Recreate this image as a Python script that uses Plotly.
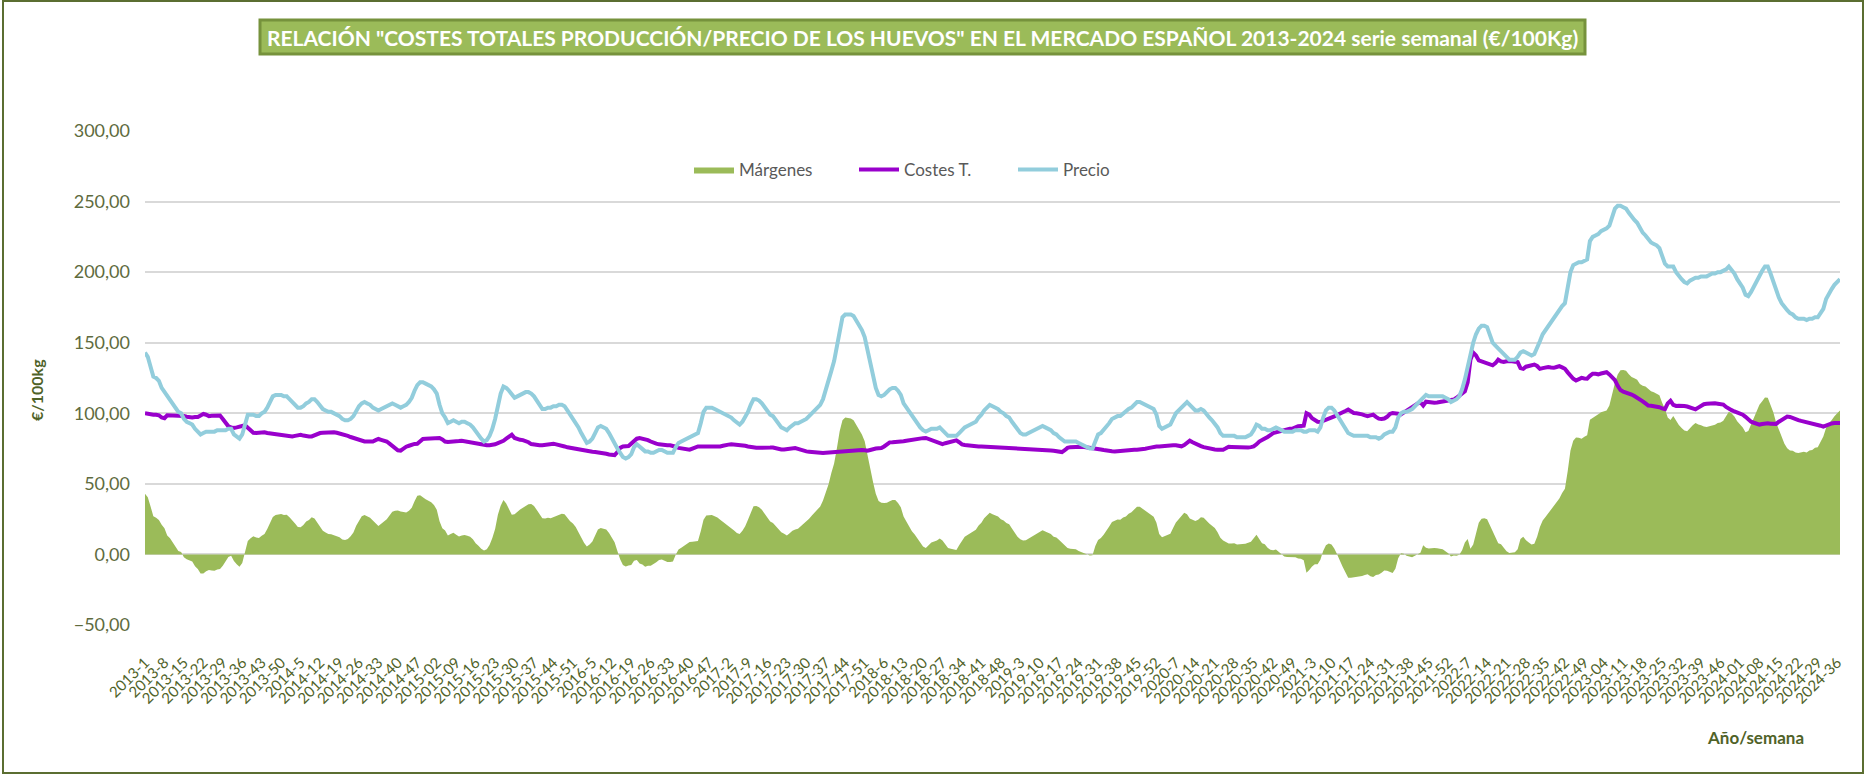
import plotly.graph_objects as go

# ---------------- categories (year / week) ----------------
years = [2013, 2014, 2015, 2016, 2017, 2018, 2019, 2020, 2021, 2022, 2023, 2024]
weeks_in_year = [52, 52, 53, 52, 52, 52, 52, 53, 52, 52, 52, 37]
zero_padded_years = [2015, 2023, 2024]

# ---------------- Precio (€/100kg), weekly ----------------
p2013 = [143, 140, 133, 126, 125, 123, 118, 115, 112, 110, 107, 104, 101, 100, 96, 94, 93, 92, 89, 87,
         85, 86, 87, 87, 87, 87, 88, 88, 88, 88, 89, 89, 85, 83, 82, 85, 93, 99, 99, 99,
         98, 98, 100, 101, 104, 108, 112, 113, 113, 113, 112, 112]
p2014 = [110, 108, 106, 104, 104, 105, 107, 108, 110, 110, 108, 105, 103, 102, 101, 101, 100, 99, 98, 96,
         95, 95, 96, 98, 102, 105, 107, 108, 107, 106, 104, 103, 102, 103, 104, 105, 106, 107, 106, 105,
         104, 105, 106, 108, 111, 116, 120, 122, 122, 121, 120, 119]
p2015 = [117, 114, 106, 100, 97, 93, 94, 95, 94, 93, 94, 94, 93, 92, 90, 87, 85, 82, 80, 81,
         84, 89, 96, 107, 114, 119, 118, 116, 113, 111, 112, 113, 114, 115, 115, 114, 112, 109, 106, 103,
         103, 104, 104, 105, 105, 106, 106, 105, 102, 99, 97, 94, 90]
p2016 = [86, 82, 79, 80, 82, 86, 90, 91, 90, 89, 86, 82, 79, 75, 72, 69, 68, 69, 71, 76,
         78, 76, 75, 73, 73, 72, 72, 73, 74, 74, 73, 72, 72, 72, 76, 79, 80, 81, 82, 83,
         84, 85, 86, 93, 101, 104, 104, 104, 103, 102, 101, 100]
p2017 = [99, 98, 97, 95, 93, 92, 94, 97, 101, 106, 110, 110, 109, 107, 104, 101, 99, 98, 95, 92,
         90, 89, 88, 90, 92, 93, 93, 94, 95, 96, 98, 100, 102, 104, 106, 110, 116, 122, 130, 137,
         148, 160, 168, 170, 170, 170, 169, 166, 163, 159, 154, 145]
p2018 = [135, 126, 118, 113, 112, 113, 115, 117, 118, 118, 116, 113, 107, 104, 101, 98, 96, 93, 90, 88,
         87, 88, 89, 89, 89, 90, 88, 86, 84, 84, 84, 84, 86, 88, 90, 91, 92, 93, 94, 97,
         99, 102, 104, 106, 105, 104, 103, 101, 100, 98, 97, 94]
p2019 = [91, 88, 86, 85, 85, 86, 87, 88, 89, 90, 91, 90, 89, 88, 86, 85, 83, 81, 80, 80,
         80, 80, 80, 79, 78, 77, 76, 75, 75, 81, 85, 86, 88, 90, 93, 96, 97, 98, 98, 100,
         101, 103, 104, 106, 108, 108, 107, 106, 105, 104, 103, 99]
p2020 = [91, 89, 90, 91, 92, 96, 100, 102, 104, 107, 108, 106, 104, 102, 102, 103, 102, 99, 97, 95,
         93, 90, 86, 84, 84, 84, 84, 84, 83, 83, 83, 83, 84, 85, 88, 92, 91, 89, 89, 88,
         88, 89, 90, 89, 88, 87, 87, 87, 87, 88, 88, 88, 87]
p2021 = [87, 88, 88, 88, 87, 90, 97, 102, 104, 104, 102, 99, 95, 92, 89, 86, 85, 84, 84, 84,
         84, 84, 84, 83, 83, 83, 82, 83, 85, 86, 87, 87, 90, 97, 100, 101, 101, 102, 103, 105,
         107, 109, 112, 113, 112, 112, 112, 112, 112, 112, 111, 110]
p2022 = [108, 109, 110, 112, 117, 124, 133, 142, 150, 156, 160, 162, 162, 161, 156, 150, 148, 146, 144, 141,
         139, 138, 138, 138, 140, 143, 144, 143, 142, 141, 142, 146, 151, 156, 159, 162, 164, 167, 170, 173,
         176, 178, 188, 200, 205, 206, 207, 207, 208, 209, 222, 225]
p2023 = [226, 227, 229, 230, 231, 233, 240, 245, 247, 247, 246, 245, 242, 239, 237, 235, 231, 228, 226, 223,
         221, 220, 219, 217, 211, 206, 204, 204, 204, 200, 197, 195, 193, 192, 194, 195, 196, 196, 197, 197,
         197, 198, 199, 199, 200, 200, 201, 202, 204, 202, 199, 195]
p2024 = [192, 189, 184, 183, 186, 190, 194, 198, 201, 204, 204, 199, 193, 186, 182, 178, 175, 173, 171, 170,
         168, 167, 167, 167, 166, 167, 167, 168, 168, 171, 174, 181, 185, 188, 191, 193, 195]

# ---------------- Costes T. (€/100kg), weekly ----------------
c2013 = [100, 99.5, 99, 99, 99, 98.6, 97, 96.5, 98.6, 98.6, 98.6, 98.6, 98.6, 98.3, 98, 97.5, 97, 97, 97.3, 97.4,
         98.5, 99.5, 99, 98, 98.3, 98.5, 98.6, 98.4, 96, 93, 90.8, 90, 89.6, 90, 90.8, 91, 91.5, 89.5, 87.5, 86.2,
         86, 86.3, 86.7, 86.5, 86, 85.7, 85.5, 85, 84.6, 84.3, 84, 83.8]
c2014 = [83.7, 83.6, 84, 84.5, 84.8, 84.2, 83.6, 83.6, 83.6, 84.5, 85.3, 86, 86.2, 86.4, 86.6, 86.7, 86.6, 86.2, 85.8, 85.5,
         84.8, 84, 83.2, 82.5, 81.7, 80.8, 80, 80, 80, 80, 80, 81, 81.8, 81.2, 80.5, 80, 78.5, 76.8, 75, 73.8,
         73.5, 75, 76.3, 77, 78, 78.3, 78.4, 80, 81.8, 81.9, 82, 82]
c2015 = [82, 82.3, 82.5, 81.5, 80, 79.6, 79.6, 79.6, 80, 80.3, 80.6, 80.2, 79.8, 79.4, 79.2, 79, 78.8, 78, 77.3, 77.3,
         77.3, 77.4, 78, 78.8, 79.5, 80.5, 82, 83.5, 84.8, 82.5, 81.5, 81.2, 81, 80.5, 79.5, 78.2, 77.7, 77.5, 77.4, 77.3,
         77.6, 78, 78.3, 78.4, 78, 77.7, 77.2, 76.5, 75.9, 75.5, 75, 74.6, 74.2]
c2016 = [74, 73.7, 73.3, 73, 72.8, 72.6, 72.4, 72.2, 71.8, 71.3, 70.8, 70.4, 70.4, 72.5, 75.5, 76.5, 76.5, 76.8, 78.5, 80.5,
         82, 82.5, 82.2, 81.8, 81, 80, 79, 78.5, 78, 77.6, 77.5, 77.4, 77.3, 77, 76.3, 75.5, 75.2, 75, 74.5, 74.2,
         75, 76, 76.5, 76.5, 76.5, 76.5, 76.3, 76, 75.9, 75.8, 76.5, 77]
c2017 = [77.7, 77.8, 78.1, 78, 77.8, 77.5, 77.3, 77, 76.5, 76, 75.8, 75.6, 75.5, 75.4, 75.5, 75.6, 75.7, 75.8, 75.2, 74.7,
         74.3, 74.3, 74.6, 75, 75.3, 75.4, 74.8, 74, 73.3, 73, 72.8, 72.5, 72.3, 72.2, 72, 71.8, 72, 72.2, 72.3, 72.5,
         72.7, 72.8, 73, 73, 73.4, 73.7, 74, 74.2, 74.2, 74, 73.8, 73.5]
c2018 = [74, 74.7, 75, 75.2, 75.4, 76.5, 78.3, 79.4, 79.5, 79.5, 79.6, 79.6, 80.2, 80.6, 81, 81.5, 81.8, 82, 82.2, 82.4,
         82.5, 81.8, 80.5, 79.8, 79.2, 78.7, 78.2, 78.8, 79.4, 80, 80.5, 80.8, 79.5, 78, 77.5, 77.2, 76.9, 76.7, 76.5, 76.5,
         76.5, 76.4, 76.5, 76.5, 76.5, 76.3, 76.2, 76, 75.9, 75.8, 75.7, 75.6]
c2019 = [75.5, 75.4, 75.3, 75.1, 74.9, 74.7, 74.5, 74.3, 74.2, 74, 73.9, 73.8, 73.7, 73.6, 73.4, 73, 72.7, 72.5, 73.8, 75.5,
         76, 76.2, 76.4, 76.5, 76.3, 76.1, 75.9, 75.8, 75.5, 75.1, 74.8, 74.4, 74, 73.5, 73.3, 73.1, 73, 73.2, 73.5, 73.9,
         74.2, 74.2, 74.2, 74.2, 74.2, 74.2, 74.5, 74.9, 75.3, 75.8, 76.3, 76.5]
c2020 = [76.5, 76.8, 77.1, 77.3, 77.3, 77.3, 77.3, 77, 76.6, 77.5, 79.5, 80.6, 79.5, 78.3, 77.5, 76.7, 76, 75.4, 75, 74.6,
         74.3, 74.2, 74.2, 74.2, 75.2, 76.3, 76.2, 76, 75.9, 75.8, 75.6, 75.4, 75.7, 76, 76.5, 78, 80, 81, 81.8, 83.2,
         84.6, 86, 86.5, 87.1, 87.8, 88.5, 88.9, 89, 89.1, 90, 90.8, 91, 91.2]
c2021 = [100, 99, 96.5, 95, 94, 93.8, 94.5, 95.5, 96.3, 97, 97.8, 98.8, 100, 100.8, 101.6, 102.6, 101.5, 100.2, 100, 99.8,
         99.2, 98.5, 98, 98.5, 99, 97.5, 96.2, 96, 96.3, 97.5, 99.5, 100.2, 100.2, 99.7, 99.2, 100.5, 102, 103.5, 105, 106,
         107, 107.8, 105.5, 108.2, 107.8, 107.4, 107.5, 107.7, 108, 108.4, 108.8, 109.2]
c2022 = [109.5, 109.7, 111, 112.3, 114, 115.6, 122, 138, 143, 141, 137.5, 136.8, 136.3, 136, 135, 134, 135.5, 138, 136.8, 136.3,
         136.8, 137, 136.8, 136.5, 136.3, 132, 131.5, 133, 133.5, 134, 134.5, 133.5, 131.5, 132, 132.5, 132.7, 132.4, 132.2, 132.8, 133.4,
         132.5, 131.5, 129, 126.3, 124.5, 123.2, 124.3, 125.1, 124.7, 124.5, 126.5, 128]
c2023 = [128, 127.6, 128.2, 128.8, 129.1, 127.5, 125.5, 123.5, 119.5, 116.5, 115.3, 114.8, 114.3, 113.3, 112.2, 111.2, 110.2, 108.5, 107, 105.5,
         105.3, 105.1, 105, 104.3, 103.5, 103, 107, 108.8, 106, 105.2, 105.3, 105.5, 105.2, 104.8, 104.3, 103.5, 102.8, 104, 105.5, 106.4,
         106.7, 107, 107.3, 107.1, 106.8, 106.5, 106.2, 104.5, 103, 102.2, 101.3, 100.7]
c2024 = [100, 99, 97.5, 95.5, 94, 93.3, 92.6, 92, 92.4, 92.9, 93, 92.6, 92.2, 92.5, 94, 95.5, 96.6, 97.7, 97.4, 96.5,
         95.8, 95.2, 94.6, 94.2, 93.8, 93.3, 93, 92.5, 92, 91.2, 90.5, 91.3, 92.3, 92.8, 93.1, 93, 93.1]

price_years = [p2013, p2014, p2015, p2016, p2017, p2018, p2019, p2020, p2021, p2022, p2023, p2024]
cost_years = [c2013, c2014, c2015, c2016, c2017, c2018, c2019, c2020, c2021, c2022, c2023, c2024]

week_labels = []
precio = []
costes = []
for y, n, pv, cv in zip(years, weeks_in_year, price_years, cost_years):
    m = min(n, len(pv), len(cv))
    for w in range(1, m + 1):
        week_labels.append(f"{y}-{w:02d}" if y in zero_padded_years else f"{y}-{w}")
    precio.extend(pv[:m])
    costes.extend(cv[:m])

margenes = [round(p - c, 2) for p, c in zip(precio, costes)]
tick_labels = week_labels[::7]

# ---------------- figure ----------------
W, H = 1865, 775
L, R, T, B = 145, 25, 131, 150
pw, ph = W - L - R, H - T - B


def px_x(x):
    return (x - L) / pw


def px_y(y):
    return (H - B - y) / ph


olive = "#4F6228"
fig = go.Figure()
fig.add_trace(go.Scatter(
    x=week_labels, y=margenes, name="Márgenes", mode="lines", legend="legend",
    line=dict(width=0, color="#9BBB59"), fill="tozeroy", fillcolor="#9BBB59",
))
fig.add_trace(go.Scatter(
    x=week_labels, y=costes, name="Costes T.", mode="lines", legend="legend2",
    line=dict(width=4, color="#9900CC"),
))
fig.add_trace(go.Scatter(
    x=week_labels, y=precio, name="Precio", mode="lines", legend="legend3",
    line=dict(width=4, color="#92CDDC"),
))

legend_style = dict(orientation="h", xanchor="left", yanchor="middle", y=px_y(170),
                    font=dict(size=17, color="#595959", family="Lato, sans-serif"),
                    bgcolor="rgba(0,0,0,0)", itemwidth=40)

fig.update_layout(
    width=W, height=H,
    margin=dict(l=L, r=R, t=T, b=B, pad=0),
    paper_bgcolor="white", plot_bgcolor="white",
    separators=",.",
    font=dict(family="Lato, Open Sans, sans-serif", color="#595959"),
    showlegend=True,
    legend=dict(x=px_x(693 - 4), **legend_style),
    legend2=dict(x=px_x(859 - 5), **legend_style),
    legend3=dict(x=px_x(1020 - 7), **legend_style),
    xaxis=dict(
        type="category", range=[0, len(week_labels) - 1],
        tickmode="array", tickvals=tick_labels, ticktext=tick_labels,
        tickangle=-45, tickfont=dict(size=15, color=olive, family="Lato, sans-serif"),
        showgrid=False, showline=False, ticks="", zeroline=False,
        ticklabelstandoff=25,
    ),
    yaxis=dict(
        range=[-50, 300], dtick=50, tick0=0, tickformat=".2f",
        tickfont=dict(size=18, color="#5E6B3E", family="Lato, sans-serif"),
        showgrid=True, gridcolor="#D9D9D9", gridwidth=1.5,
        zeroline=True, zerolinecolor="#D9D9D9", zerolinewidth=2,
        showline=False, ticks="", ticklabelstandoff=14,
    ),
    shapes=[
        dict(type="rect", xref="paper", yref="paper",
             x0=px_x(3), x1=px_x(W - 2), y0=px_y(H - 2), y1=px_y(1),
             line=dict(color="#5B6E31", width=2), fillcolor="rgba(0,0,0,0)", layer="below"),
        dict(type="rect", xref="paper", yref="paper",
             x0=px_x(260), x1=px_x(1585), y0=px_y(54), y1=px_y(20),
             line=dict(color="#76923C", width=3), fillcolor="#9BBB59", layer="above"),
    ],
    annotations=[
        dict(text="<b>RELACIÓN \"COSTES TOTALES PRODUCCIÓN/PRECIO DE LOS HUEVOS\" EN EL MERCADO ESPAÑOL 2013-2024 serie semanal (€/100Kg)</b>",
             xref="paper", yref="paper", x=px_x(922), y=px_y(37), xanchor="center", yanchor="middle",
             showarrow=False, font=dict(size=21, color="white", family="Lato, sans-serif")),
        dict(text="<b>€/100kg</b>", xref="paper", yref="paper", x=px_x(36), y=px_y(390),
             xanchor="center", yanchor="middle", textangle=-90, showarrow=False,
             font=dict(size=16, color=olive, family="Lato, sans-serif")),
        dict(text="<b>Año/semana</b>", xref="paper", yref="paper", x=px_x(1755), y=px_y(737),
             xanchor="center", yanchor="middle", showarrow=False,
             font=dict(size=17, color=olive, family="Lato, sans-serif")),
    ],
)

fig.write_html("out.html", include_plotlyjs=True, config={"displayModeBar": False},
               post_script="document.body.style.margin='0';document.body.style.overflow='hidden';")
